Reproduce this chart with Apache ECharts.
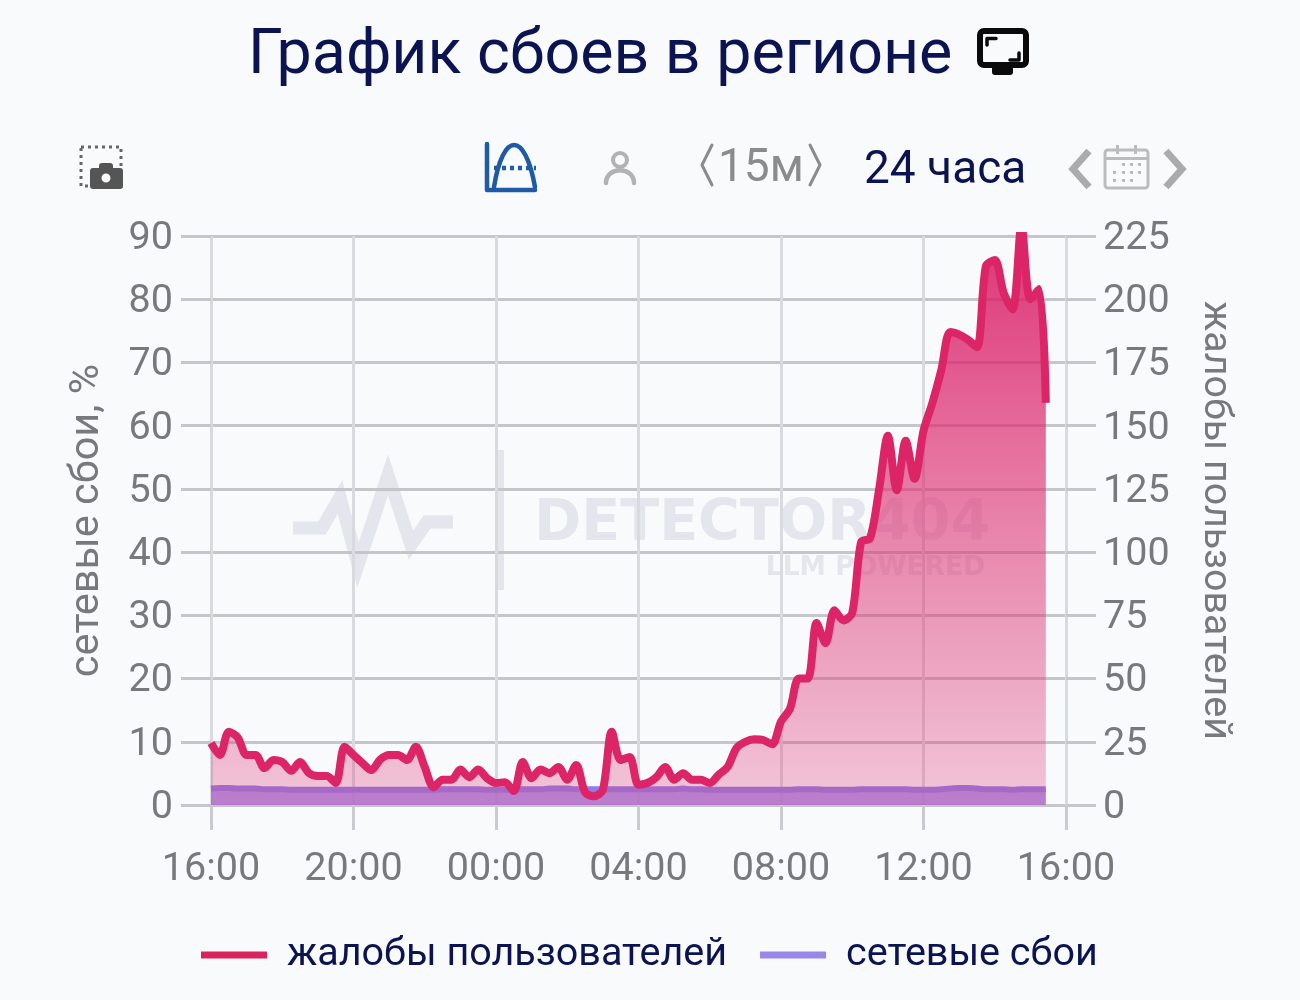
<!DOCTYPE html>
<html><head><meta charset="utf-8">
<script src="https://cdn.jsdelivr.net/npm/echarts@6/dist/echarts.min.js"></script>
<style>html,body{margin:0;padding:0;background:#f9fafc}#c{width:1300px;height:1000px}</style>
</head><body><div id="c"></div>
<script>
const tickLabels = ['16:00','20:00','00:00','04:00','08:00','12:00','16:00'];
const times = ['16:00','16:15','16:30','16:45','17:00','17:15','17:30','17:45','18:00','18:15','18:30','18:45','19:00','19:15','19:30','19:45',
'20:00','20:15','20:30','20:45','21:00','21:15','21:30','21:45','22:00','22:15','22:30','22:45','23:00','23:15','23:30','23:45',
'00:00','00:15','00:30','00:45','01:00','01:15','01:30','01:45','02:00','02:15','02:30','02:45','03:00','03:15','03:30','03:45',
'04:00','04:15','04:30','04:45','05:00','05:15','05:30','05:45','06:00','06:15','06:30','06:45','07:00','07:15','07:30','07:45',
'08:00','08:15','08:30','08:45','09:00','09:15','09:30','09:45','10:00','10:15','10:30','10:45','11:00','11:15','11:30','11:45',
'12:00','12:15','12:30','12:45','13:00','13:15','13:30','13:45','14:00','14:15','14:30','14:45','15:00','15:15','15:26'];
const complaints = [24.5,19.8,29,26.7,19.8,19.8,14.6,17.8,17,13.5,17,12.6,11.5,11.5,8.7,23,
19.8,16.6,13.8,18,19.8,19.8,17.8,23,15,7,10,10,14,11,14,10.6,
8.7,9,5.5,17,10.6,14,12.6,15,10,15.8,5,3.5,6,29,17.8,19,
8,8.7,11,15,10,12.6,10,10,8.7,12,15,22.5,25,26,25.7,24,
33,38,50,50,72,64,77,73,76,104,105.5,124.5,146,124.5,144,129,
148,159,172,187,186,184,181,213,215.5,202.5,196,229,200,204,159];
const outages = [2.6,2.7,2.7,2.6,2.6,2.6,2.5,2.5,2.5,2.4,2.4,2.4,2.4,2.4,2.4,2.4,
2.4,2.4,2.4,2.4,2.4,2.4,2.4,2.4,2.4,2.4,2.5,2.5,2.5,2.5,2.5,2.4,
2.4,2.4,2.4,2.5,2.5,2.5,2.6,2.6,2.6,2.5,2.5,2.5,2.5,2.5,2.5,2.5,
2.5,2.5,2.5,2.5,2.5,2.6,2.5,2.5,2.4,2.4,2.4,2.4,2.4,2.4,2.4,2.4,
2.4,2.4,2.5,2.5,2.5,2.4,2.4,2.4,2.4,2.5,2.5,2.5,2.5,2.5,2.5,2.4,
2.4,2.4,2.5,2.6,2.7,2.7,2.6,2.5,2.5,2.5,2.4,2.5,2.5,2.5,2.5];
const seriesNames = ['жалобы пользователей','сетевые сбои'];
const leftName = 'сетевые сбои, %', rightName = 'жалобы пользователей';

const minutes = t => { const [h,m] = t.split(':').map(Number); return ((h-16+24)%24)*60+m; };
const pair = arr => arr.map((v,i)=>[minutes(times[i]),v]);
const F = 'Roboto, sans-serif', GREY='#77797c', NAVY='#0b1450';
const wm = 'rgba(205,209,219,0.5)';

const chart = echarts.init(document.getElementById('c'));
const line = (pts,color,w,extra)=>({type:'polyline',z:extra&&extra.z||20,shape:{points:pts},style:Object.assign({stroke:color,lineWidth:w,fill:null,lineCap:'round',lineJoin:'round'},extra&&extra.style||{})});
const text = (x,y,t,size,color,weight,align)=>({type:'text',x,y,z:20,style:{text:t,fontFamily:F,fontSize:size,fill:color,fontWeight:weight||400,align:align||'left',verticalAlign:'middle'}});
const rect = (x,y,w,h,fill,r,stroke,lw)=>({type:'rect',z:20,shape:{x,y,width:w,height:h,r:r||0},style:{fill:fill||null,stroke:stroke||null,lineWidth:lw||0}});
const calDots=[];
[[1122,163],[1130,163],[1138,163],[1113,171],[1122,171],[1130,171],[1138,171],[1113,179],[1122,179],[1130,179]].forEach(p=>calDots.push(rect(p[0],p[1],3,3,'#bcbcbc')));

chart.setOption({
  animation:false,
  backgroundColor:'#f9fafc',
  textStyle:{fontFamily:F},
  title:{text:'График сбоев в регионе',left:248,top:26,padding:0,textStyle:{fontFamily:F,fontSize:62.7,fontWeight:400,color:NAVY}},
  legend:{left:201,top:935,padding:0,itemWidth:66,itemHeight:7,itemGap:33,icon:'rect',
    data:seriesNames,textStyle:{fontFamily:F,fontSize:39.5,color:NAVY,padding:[0,0,0,15]}},
  grid:{left:211,right:234,top:236,height:569,containLabel:false},
  xAxis:{type:'value',min:0,max:1440,interval:240,
    axisLine:{show:false},
    axisTick:{show:true,length:25,lineStyle:{color:'#c9cbd0',width:3}},
    axisLabel:{fontFamily:F,fontSize:39.5,color:GREY,margin:45,hideOverlap:false,showMinLabel:true,showMaxLabel:true,
      formatter:v=>tickLabels[Math.round(v/240)]},
    splitLine:{show:true,lineStyle:{color:'#d8dadf',width:3}}},
  yAxis:[
    {type:'value',min:0,max:90,interval:10,position:'left',name:leftName,nameLocation:'middle',nameGap:102,nameRotate:90,
     nameTextStyle:{fontFamily:F,fontSize:41.5,color:GREY},
     axisLine:{show:false},axisTick:{show:true,length:30,lineStyle:{color:'#c4c6ca',width:3}},
     axisLabel:{fontFamily:F,fontSize:39.5,color:GREY,margin:38,verticalAlign:'top',lineHeight:6},
     splitLine:{show:true,lineStyle:{color:'#c4c6ca',width:3}}},
    {type:'value',min:0,max:225,interval:25,position:'right',name:rightName,nameLocation:'middle',nameGap:129,nameRotate:-90,
     nameTextStyle:{fontFamily:F,fontSize:39.4,color:GREY},
     axisLine:{show:false},axisTick:{show:true,length:30,lineStyle:{color:'#c4c6ca',width:3}},
     axisLabel:{fontFamily:F,fontSize:39.5,color:GREY,margin:37,verticalAlign:'top',lineHeight:6},
     splitLine:{show:false}}
  ],
  series:[
    {name:seriesNames[0],type:'line',yAxisIndex:1,z:4,data:pair(complaints),smooth:0.3,symbol:'none',clip:true,
     lineStyle:{color:'#dc2566',width:8,join:'round'},itemStyle:{color:'#d9235f'},
     areaStyle:{opacity:1,color:new echarts.graphic.LinearGradient(0,0,0,805,[{offset:236/805,color:'rgba(218,32,105,0.9)'},{offset:1,color:'rgba(222,60,120,0.28)'}],true)}},
    {name:seriesNames[1],type:'line',yAxisIndex:0,z:3,data:pair(outages),smooth:true,symbol:'none',
     lineStyle:{color:'#8f7ce8',width:6},itemStyle:{color:'#9a85ea'},
     areaStyle:{opacity:1,color:'rgba(154,130,234,0.82)'}}
  ],
  graphic:[
    // watermark
    {type:'polyline',z:0,shape:{points:[[293,528],[322,528],[340,497],[358,565],[388,475],[411,545],[427,522],[453,522]]},style:{stroke:wm,lineWidth:13,fill:null,lineJoin:'miter'}},
    {type:'rect',z:0,shape:{x:497,y:450,width:7,height:140},style:{fill:wm}},
    {type:'text',z:0,x:534,y:525,style:{text:'DETECTOR404',fontFamily:'"DejaVu Sans", sans-serif',fontWeight:700,fontSize:57,fill:wm,verticalAlign:'middle'}},
    {type:'text',z:0,x:985,y:568,style:{text:'LLM POWERED',fontFamily:'"DejaVu Sans", sans-serif',fontWeight:700,fontSize:26.5,fill:wm,align:'right',verticalAlign:'middle'}},
    // monitor icon
    rect(980,31,46,34,null,4,'#0a0a0a',6),
    line([[987,45],[987,38.5],[996,38.5]],'#0a0a0a',3.5),
    line([[1019,53],[1019,60],[1010,60]],'#0a0a0a',3.5),
    rect(992,66,21,9,'#0a0a0a',3),
    // camera screenshot icon
    {type:'rect',z:20,shape:{x:81,y:147,width:40,height:39},style:{fill:null,stroke:'#666',lineWidth:3,lineDash:[3,4]}},
    rect(90,168,33,21,'#555',3),
    rect(99,163,14,8,'#555',3),
    {type:'circle',z:21,shape:{cx:106,cy:178,r:5.5},style:{fill:'#f9fafc',stroke:'#555',lineWidth:2}},
    // bell curve icon
    line([[487,144],[487,190],[535,190]],'#1f5aa6',4.5),
    {type:'bezierCurve',z:20,shape:{x1:494,y1:187,cpx1:503,cpy1:131,cpx2:525,cpy2:131,x2:535,y2:187},style:{stroke:'#1f5aa6',lineWidth:4.5,fill:null,lineCap:'round'}},
    {type:'line',z:20,shape:{x1:494,y1:168,x2:536,y2:168},style:{stroke:'#1f5aa6',lineWidth:4.5,lineDash:[4,4]}},
    // person icon
    {type:'circle',z:20,shape:{cx:620,cy:160,r:7},style:{fill:null,stroke:'#b2b2b2',lineWidth:4}},
    {type:'bezierCurve',z:20,shape:{x1:606,y1:183,cpx1:606,cpy1:166,cpx2:634,cpy2:166,x2:634,y2:183},style:{stroke:'#b2b2b2',lineWidth:4.5,fill:null,lineCap:'round'}},
    // 15m
    line([[712,145],[702,165],[712,185]],'#8b8b8b',3),
    text(718,169,'15м',46,'#8b8b8b'),
    line([[810,145],[820,165],[810,185]],'#8b8b8b',3),
    text(864,171,'24 часа',46,NAVY),
    // calendar
    line([[1089,151],[1073,169],[1089,187]],'#ababab',7,{style:{lineCap:'butt',lineJoin:'miter'}}),
    line([[1166,151],[1182,169],[1166,187]],'#ababab',7,{style:{lineCap:'butt',lineJoin:'miter'}}),
    rect(1105,150,43,38,null,3,'#bcbcbc',3),
    rect(1105,157,43,3,'#bcbcbc'),
    rect(1116,145,3,9,'#bcbcbc'),
    rect(1134,145,3,9,'#bcbcbc')
  ].concat(calDots)
});
</script></body></html>
